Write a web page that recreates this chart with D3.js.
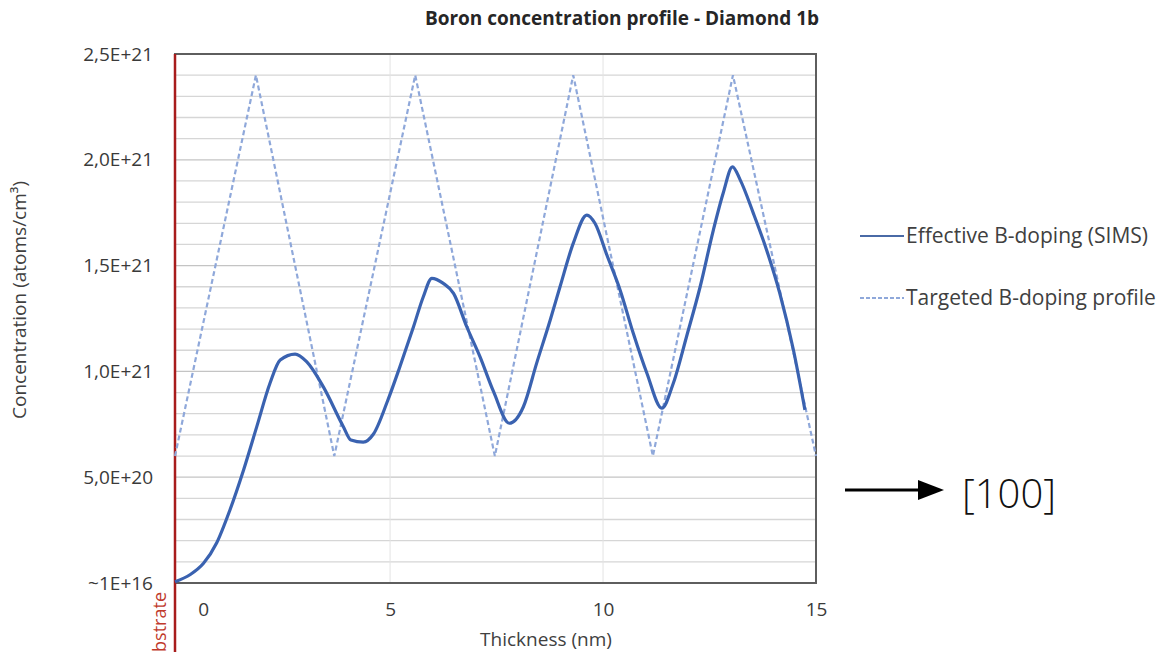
<!DOCTYPE html>
<head>
    <title>Boron concentration profile - Diamond 1b</title>
    <script src="https://cdn.jsdelivr.net/npm/d3@7"></script>
</head>
<style>
body {
  margin: 0;
  background: #fff;
  font-family: "Open Sans", "DejaVu Sans", Arial, sans-serif;
}
svg text { fill: #404040; }
</style>
<body>
    <svg id="chart"></svg>
</body>

<script>

    // Thickness (nm) and concentration (atoms/cm3)
    var simsThickness = [-0.05, 0.31, 0.62, 0.93, 1.24, 1.56, 1.87, 2.18, 2.42, 2.77, 3.04, 3.43, 3.90, 4.08,
        4.37, 4.61, 4.94, 5.23, 5.55, 5.78, 5.98, 6.25, 6.49, 6.80, 7.11, 7.43, 7.80, 8.13, 8.44, 8.76, 8.99,
        9.30, 9.62, 9.81, 10.09, 10.40, 10.71, 11.03, 11.38, 11.65, 11.96, 12.28, 12.59, 12.82, 13.04, 13.22,
        13.53, 13.84, 14.15, 14.47, 14.74];
    var simsConc = [0.006e21, 0.04e21, 0.093e21, 0.19e21, 0.345e21, 0.534e21, 0.739e21, 0.944e21, 1.054e21,
        1.082e21, 1.046e21, 0.928e21, 0.74e21, 0.676e21, 0.666e21, 0.704e21, 0.86e21, 1.022e21, 1.211e21,
        1.353e21, 1.44e21, 1.416e21, 1.369e21, 1.211e21, 1.07e21, 0.904e21, 0.755e21, 0.833e21, 1.038e21,
        1.243e21, 1.40e21, 1.605e21, 1.739e21, 1.70e21, 1.55e21, 1.385e21, 1.18e21, 0.991e21, 0.826e21,
        0.944e21, 1.164e21, 1.40e21, 1.668e21, 1.842e21, 1.967e21, 1.905e21, 1.747e21, 1.574e21, 1.369e21,
        1.101e21, 0.818e21];

    // Targeted profile: triangle wave corners
    var targetThickness = [-0.05, 1.85, 3.69, 5.59, 7.46, 9.30, 11.17, 13.05, 15.0];
    var targetConc = [0.6e21, 2.4e21, 0.6e21, 2.4e21, 0.6e21, 2.4e21, 0.6e21, 2.4e21, 0.6e21];

    var yTicks = [0, 5e20, 1e21, 1.5e21, 2e21, 2.5e21];
    var yTickLabels = ["~1E+16", "5,0E+20", "1,0E+21", "1,5E+21", "2,0E+21", "2,5E+21"];
    var xTicks = [0, 5, 10, 15];
    var seriesNames = ["Effective B-doping (SIMS)", "Targeted B-doping profile"];

    var width = 1171, height = 652;
    var plot = { left: 175, right: 816, top: 54, bottom: 583 };

    var svg = d3.select('#chart')
        .attr('width', width)
        .attr('height', height);

    var x = d3.scaleLinear().domain([-0.05, 15]).range([plot.left, plot.right]);
    var y = d3.scaleLinear().domain([0, 2.5e21]).range([plot.bottom, plot.top]);

    // Minor horizontal grid every 1E+20
    svg.append('g').selectAll('line')
        .data(d3.range(1, 25).map(function (i) { return i * 1e20; }))
        .enter().append('line')
        .attr('x1', plot.left).attr('x2', plot.right)
        .attr('y1', function (d) { return y(d); })
        .attr('y2', function (d) { return y(d); })
        .style('stroke', function (d, i) { return (i + 1) % 5 === 0 ? '#c4c4c4' : '#d6d6d6'; })
        .style('stroke-width', 1.3);

    // Vertical grid at 5 and 10 nm
    svg.append('g').selectAll('line')
        .data([5, 10])
        .enter().append('line')
        .attr('x1', function (d) { return x(d); })
        .attr('x2', function (d) { return x(d); })
        .attr('y1', plot.top).attr('y2', plot.bottom)
        .style('stroke', '#e3e3e3')
        .style('stroke-width', 1);

    // Plot frame
    svg.append('rect')
        .attr('x', plot.left).attr('y', plot.top)
        .attr('width', plot.right - plot.left)
        .attr('height', plot.bottom - plot.top)
        .style('fill', 'none')
        .style('stroke', '#5e5e5e')
        .style('stroke-width', 2);

    // Y axis tick labels
    var yAxis = d3.axisLeft(y)
        .tickValues(yTicks)
        .tickSize(0)
        .tickPadding(22)
        .tickFormat(function (d, i) { return yTickLabels[i]; });
    var gy = svg.append('g').attr('transform', 'translate(' + plot.left + ',0)').call(yAxis);
    gy.select('.domain').remove();
    gy.selectAll('text')
        .style('font-family', '"Open Sans", sans-serif')
        .style('font-size', '19px')
        .style('fill', '#3a3a3a');

    // X axis tick labels
    var xAxis = d3.axisBottom(x)
        .tickValues(xTicks)
        .tickSize(0)
        .tickPadding(20)
        .tickFormat(d3.format('d'));
    var gx = svg.append('g').attr('transform', 'translate(0,' + plot.bottom + ')').call(xAxis);
    gx.select('.domain').remove();
    gx.selectAll('text')
        .style('font-family', '"Open Sans", sans-serif')
        .style('font-size', '19px')
        .style('fill', '#3a3a3a');
    // the "0" label sits clear of the substrate line in the original
    gx.selectAll('.tick').filter(function (d) { return d === 0; })
        .select('text').attr('dx', 26);

    // Substrate line (red) running below the frame
    svg.append('line')
        .attr('x1', x(-0.05)).attr('x2', x(-0.05))
        .attr('y1', plot.top).attr('y2', height)
        .style('stroke', '#a81c1c')
        .style('stroke-width', 2.5);
    svg.append('text')
        .attr('transform', 'translate(' + (x(-0.05) - 9) + ',592)rotate(-90)')
        .attr('text-anchor', 'end')
        .style('font-size', '18px')
        .style('fill', '#c0392b')
        .text('Substrate');

    // Lines
    var targetLine = d3.line()
        .x(function (d) { return x(d[0]); })
        .y(function (d) { return y(d[1]); });
    var simsLine = d3.line()
        .curve(d3.curveMonotoneX)
        .x(function (d) { return x(d[0]); })
        .y(function (d) { return y(d[1]); });

    svg.append('path')
        .datum(d3.zip(targetThickness, targetConc))
        .attr('d', targetLine)
        .style('fill', 'none')
        .style('stroke', '#8fa8da')
        .style('stroke-width', 2.2)
        .style('stroke-dasharray', '5,3');

    svg.append('path')
        .datum(d3.zip(simsThickness, simsConc))
        .attr('d', simsLine)
        .style('fill', 'none')
        .style('stroke', '#3a62b0')
        .style('stroke-width', 3.2)
        .style('stroke-linejoin', 'round');

    // Title and axis titles
    svg.append('text')
        .attr('x', 622).attr('y', 25)
        .attr('text-anchor', 'middle')
        .style('font-size', '19px')
        .style('font-weight', 'bold')
        .style('fill', '#262626')
        .text('Boron concentration profile - Diamond 1b');

    svg.append('text')
        .attr('x', 546).attr('y', 646)
        .attr('text-anchor', 'middle')
        .style('font-size', '19px')
        .text('Thickness (nm)');

    svg.append('text')
        .attr('transform', 'translate(26,' + 300 + ')rotate(-90)')
        .attr('text-anchor', 'middle')
        .style('font-size', '19px')
        .text('Concentration (atoms/cm³)');

    // Legend
    var legend = svg.append('g').selectAll('g')
        .data(seriesNames)
        .enter().append('g')
        .attr('transform', function (d, i) { return 'translate(860,' + (236 + i * 62) + ')'; });
    legend.append('line')
        .attr('x1', 0).attr('x2', 44)
        .style('stroke', function (d, i) { return i ? '#8fa8da' : '#4a6aa6'; })
        .style('stroke-width', 2)
        .style('stroke-dasharray', function (d, i) { return i ? '4,2' : null; });
    legend.append('text')
        .attr('x', 46).attr('dy', '0.35em')
        .style('font-size', '21px')
        .text(function (d) { return d; });

    // Growth direction arrow
    svg.append('line')
        .attr('x1', 845).attr('x2', 920)
        .attr('y1', 490).attr('y2', 490)
        .style('stroke', '#000')
        .style('stroke-width', 3);
    svg.append('path')
        .attr('d', 'M918,480L944,490L918,500Z')
        .style('fill', '#000');
    svg.append('text')
        .attr('x', 962).attr('y', 508)
        .style('font-family', '"Open Sans", sans-serif')
        .style('font-size', '40px')
        .style('font-weight', 300)
        .style('fill', '#111')
        .text('[100]');

</script>
